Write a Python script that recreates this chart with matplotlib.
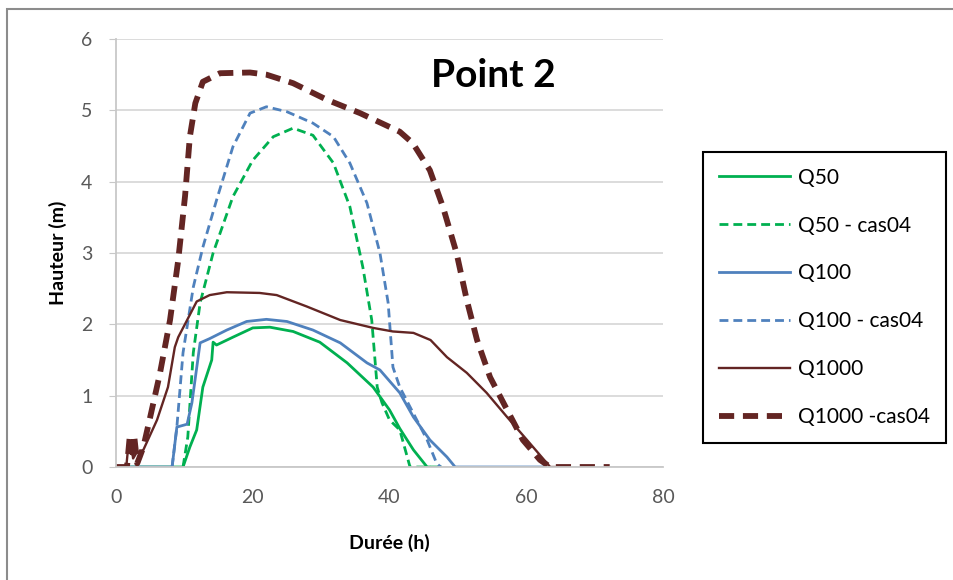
import matplotlib.pyplot as plt
from matplotlib.patches import Rectangle

plt.rcParams['font.family'] = ['Lato', 'DejaVu Sans']

# Durée (h) / Hauteur (m)
x_q50 = [0, 9.8, 10.8, 11.8, 12.7, 14.0, 14.2, 14.7, 17.1, 20.0, 22.5, 25.9, 29.8, 33.8, 37.6, 40.0, 41.5, 43.5, 45.5, 47.4]
y_q50 = [0, 0, 0.28, 0.52, 1.12, 1.5, 1.75, 1.71, 1.82, 1.95, 1.96, 1.9, 1.75, 1.46, 1.12, 0.8, 0.54, 0.24, 0, 0]

x_q50c = [9.8, 10.5, 11.3, 12.3, 14.2, 17.1, 20.0, 23.0, 25.9, 28.8, 31.8, 34.2, 36.1, 37.4, 38.2, 38.9, 40.0, 41.5, 43.0, 46.0]
y_q50c = [0, 0.42, 1.6, 2.3, 3.0, 3.79, 4.3, 4.63, 4.75, 4.65, 4.26, 3.65, 2.8, 2.06, 1.12, 0.9, 0.66, 0.52, 0.0, 0]

x_q100 = [0, 8.2, 8.9, 10.4, 11.1, 12.3, 13.7, 16.2, 19.1, 22.0, 25.0, 28.8, 32.8, 36.7, 38.6, 41.5, 43.5, 45.9, 48.4, 49.6, 62.5]
y_q100 = [0, 0, 0.56, 0.6, 0.9, 1.74, 1.8, 1.92, 2.04, 2.07, 2.04, 1.92, 1.74, 1.46, 1.36, 1.04, 0.7, 0.38, 0.14, 0, 0]

x_q100c = [8.2, 8.9, 9.8, 11.3, 12.7, 14.7, 17.1, 19.6, 22.0, 25.0, 28.8, 31.8, 34.2, 36.7, 38.6, 39.8, 40.5, 41.5, 43.5, 45.5, 46.9, 47.5]
y_q100c = [0, 0.56, 1.6, 2.52, 3.08, 3.74, 4.49, 4.96, 5.05, 4.98, 4.82, 4.63, 4.26, 3.7, 3.0, 2.3, 1.4, 1.12, 0.75, 0.38, 0.05, 0]

x_q1000 = [0, 1.5, 1.8, 2.2, 2.5, 3.0, 4.0, 6.0, 7.6, 8.6, 9.1, 10.4, 11.8, 13.7, 16.2, 21.0, 23.5, 27.9, 32.8, 37.6, 40.5, 43.5, 46.0, 48.4, 51.3, 54.2, 57.2, 60.1, 63.5, 64.5]
y_q1000 = [0, 0, 0.3, 0.35, 0.12, 0.2, 0.24, 0.66, 1.12, 1.68, 1.82, 2.06, 2.32, 2.41, 2.45, 2.44, 2.41, 2.25, 2.06, 1.95, 1.9, 1.88, 1.78, 1.54, 1.32, 1.04, 0.7, 0.38, 0.0, 0]

x_q1000c = [0, 1.6, 2.0, 2.4, 2.7, 3.1, 3.5, 4.0, 5.0, 6.4, 7.9, 9.1, 10.1, 10.8, 11.6, 12.7, 15.2, 19.6, 22.0, 25.9, 30.8, 35.7, 41.5, 43.4, 45.9, 47.8, 49.8, 51.3, 52.8, 54.7, 57.2, 59.5, 62.0, 63.5, 72.2]
y_q1000c = [0, 0, 0.42, 0.2, 0.4, 0.05, 0.15, 0.28, 0.7, 1.3, 2.06, 2.9, 3.8, 4.63, 5.1, 5.4, 5.52, 5.53, 5.5, 5.38, 5.15, 4.96, 4.7, 4.54, 4.16, 3.65, 3.0, 2.34, 1.78, 1.26, 0.8, 0.38, 0.1, 0, 0]

fig = plt.figure(figsize=(9.54, 5.8), dpi=100)
ax = fig.add_axes([0.1216, 0.1948, 0.5734, 0.738])

# cadre gris autour du graphique
fig.patches.append(Rectangle((7/954, -0.5), 2, 1.5 - 9/580, transform=fig.transFigure,
                             fill=False, edgecolor='#8c8c8c', linewidth=1.5))

vert = '#00B050'
bleu = '#4F81BD'
brun = '#632523'

ax.plot(x_q50, y_q50, color=vert, lw=2.0, label='Q50')
ax.plot(x_q50c, y_q50c, color=vert, lw=2.0, dashes=(3.2, 1.8), label='Q50 - cas04')
ax.plot(x_q100, y_q100, color=bleu, lw=2.0, label='Q100')
ax.plot(x_q100c, y_q100c, color=bleu, lw=2.0, dashes=(3.2, 1.8), label='Q100 - cas04')
ax.plot(x_q1000, y_q1000, color=brun, lw=1.7, label='Q1000')
ax.plot(x_q1000c, y_q1000c, color=brun, lw=4.2, dashes=(2.6, 1.5), label='Q1000 -cas04')

ax.set_xlim(0, 80)
ax.set_ylim(0, 6)
ax.set_xticks([0, 20, 40, 60, 80])
ax.set_yticks([0, 1, 2, 3, 4, 5, 6])
ax.grid(axis='y', color='#d9d9d9', lw=1.3)
ax.set_axisbelow(True)
for s in ['top', 'right']:
    ax.spines[s].set_visible(False)
for s in ['left', 'bottom']:
    ax.spines[s].set_color('#c8c8c8')
    ax.spines[s].set_linewidth(1.3)
ax.tick_params(axis='x', length=0, pad=16, labelsize=14, labelcolor='#595959')
ax.tick_params(axis='y', length=5, color='#c8c8c8', pad=12, labelsize=14, labelcolor='#595959')

ax.set_xlabel('Durée (h)', fontsize=14, fontweight='bold', labelpad=20)
ax.set_ylabel('Hauteur (m)', fontsize=14, fontweight='bold', labelpad=10)

ax.text(0.69, 0.955, 'Point 2', transform=ax.transAxes, fontsize=28, fontweight='bold',
        ha='center', va='top')

leg = fig.legend(loc='upper left', bbox_to_anchor=(0.737, 0.738), fontsize=15,
                 handlelength=3.4, labelspacing=1.34, borderpad=0.75, handletextpad=0.4,
                 borderaxespad=0, fancybox=False, framealpha=1, edgecolor='black')
leg.get_frame().set_linewidth(1.5)

fig.savefig('out.png', dpi=100)
